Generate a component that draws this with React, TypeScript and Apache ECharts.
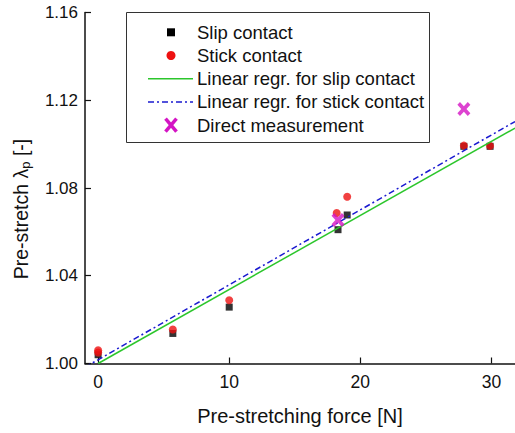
import React, { useEffect, useRef } from "react";
import * as echarts from "echarts";

// Slip contact (black squares)
const slipX = [0, 5.7, 10, 18.3, 19, 27.9, 29.9];
const slipY = [1.004, 1.0137, 1.0257, 1.061, 1.0677, 1.099, 1.099];
// Stick contact (red dots)
const stickX = [0, 0, 5.7, 10, 18.2, 19, 27.9, 29.9];
const stickY = [1.005, 1.006, 1.0155, 1.0288, 1.0686, 1.076, 1.0993, 1.0992];
// Direct measurement (magenta crosses)
const directX = [18.3, 27.9];
const directY = [1.0654, 1.116];
// Linear regressions (end points)
const slipRegX = [0, 31.8];
const slipRegY = [1.0, 1.1073];
const stickRegX = [-1, 31.8];
const stickRegY = [0.9983, 1.1103];

const xTicks = [0, 10, 20, 30];
const legendLabels = [
  "Slip contact",
  "Stick contact",
  "Linear regr. for slip contact",
  "Linear regr. for stick contact",
  "Direct measurement",
];

const zip = (xs: number[], ys: number[]) => xs.map((x, i) => [x, ys[i]]);

const FONT = "Liberation Sans, Arial, sans-serif";
const GREEN = "#2cc62c";
const BLUE = "#1a1ad0";
const RED = "#ee1111";
const MAGENTA = "#d414c4";
const CROSS =
  "path://M0,2 L2,0 L5,3 L8,0 L10,2 L7,5 L10,8 L8,10 L5,7 L2,10 L0,8 L3,5 Z";

export default function App() {
  const ref = useRef<HTMLDivElement>(null);
  useEffect(() => {
    if (!ref.current) return;
    const chart = echarts.init(ref.current, undefined, { renderer: "svg" });
    const rowY = (i: number) => 32.3 + i * 23.2;
    const legendGraphics: any[] = [
      {
        type: "rect",
        shape: { x: 126.5, y: 12.5, width: 303, height: 130 },
        style: { fill: "#fff", stroke: "#333", lineWidth: 1 },
        z: 10,
      },
      {
        type: "rect",
        shape: { x: 167, y: rowY(0) - 4, width: 8, height: 8 },
        style: { fill: "#000" },
        z: 11,
      },
      {
        type: "circle",
        shape: { cx: 171, cy: rowY(1), r: 4.5 },
        style: { fill: RED },
        z: 11,
      },
      {
        type: "line",
        shape: { x1: 148, y1: rowY(2), x2: 193, y2: rowY(2) },
        style: { stroke: GREEN, lineWidth: 1.5 },
        z: 11,
      },
      {
        type: "line",
        shape: { x1: 148, y1: rowY(3), x2: 193, y2: rowY(3) },
        style: { stroke: BLUE, lineWidth: 1.5, lineDash: [6, 3, 2, 3] },
        z: 11,
      },
      {
        type: "line",
        shape: { x1: 165.5, y1: rowY(4) - 6.5, x2: 176.5, y2: rowY(4) + 6.5 },
        style: { stroke: MAGENTA, lineWidth: 3.5 },
        z: 11,
      },
      {
        type: "line",
        shape: { x1: 176.5, y1: rowY(4) - 6.5, x2: 165.5, y2: rowY(4) + 6.5 },
        style: { stroke: MAGENTA, lineWidth: 3.5 },
        z: 11,
      },
      ...legendLabels.map((t, i) => ({
        type: "text",
        x: 197,
        y: rowY(i),
        style: {
          text: t,
          fill: "#111",
          font: `18.5px ${FONT}`,
          verticalAlign: "middle",
          align: "left",
        },
        z: 11,
      })),
      {
        type: "text",
        x: 21,
        y: 209,
        rotation: Math.PI / 2,
        style: {
          text: "Pre-stretch λ{sub|p} [-]",
          fill: "#111",
          font: `19.5px ${FONT}`,
          align: "center",
          verticalAlign: "middle",
          rich: {
            sub: {
              fontSize: 13,
              fontFamily: FONT,
              fill: "#111",
              verticalAlign: "bottom",
              padding: [9, 0, 0, 0],
            },
          },
        },
        z: 11,
      },
    ];

    chart.setOption({
      animation: false,
      backgroundColor: "#fff",
      textStyle: { fontFamily: FONT },
      grid: { left: 85, right: 0, top: 12.5, bottom: 69.5 },
      xAxis: {
        type: "value",
        min: -1,
        max: 31.8,
        name: "Pre-stretching force [N]",
        nameLocation: "middle",
        nameGap: 42,
        nameTextStyle: { fontSize: 20, color: "#111", fontFamily: FONT },
        axisLine: { lineStyle: { color: "#111", width: 1.5 } },
        axisTick: {
          inside: true,
          length: 6,
          customValues: xTicks,
          lineStyle: { color: "#111", width: 1.2 },
        },
        axisLabel: {
          customValues: xTicks,
          fontSize: 17.5,
          color: "#111",
          margin: 9,
          fontFamily: FONT,
        },
        splitLine: { show: false },
      },
      yAxis: {
        type: "value",
        min: 1.0,
        max: 1.16,
        interval: 0.04,
        axisLine: { onZero: false, lineStyle: { color: "#111", width: 1.5 } },
        axisTick: { inside: true, length: 6, lineStyle: { color: "#111", width: 1.2 } },
        axisLabel: {
          fontSize: 17,
          color: "#111",
          margin: 7,
          fontFamily: FONT,
          formatter: (v: number) => v.toFixed(2),
        },
        splitLine: { show: false },
      },
      series: [
        {
          name: legendLabels[0],
          type: "scatter",
          symbol: "rect",
          symbolSize: 7,
          itemStyle: { color: "#000" },
          data: zip(slipX, slipY),
          z: 2,
        },
        {
          name: legendLabels[1],
          type: "scatter",
          symbol: "circle",
          symbolSize: 8,
          itemStyle: { color: RED },
          data: zip(stickX, stickY),
          z: 3,
        },
        {
          name: legendLabels[2],
          type: "line",
          showSymbol: false,
          symbol: "none",
          lineStyle: { color: GREEN, width: 1.5 },
          data: zip(slipRegX, slipRegY),
          z: 4,
        },
        {
          name: legendLabels[3],
          type: "line",
          showSymbol: false,
          symbol: "none",
          lineStyle: { color: BLUE, width: 1.5, type: [6, 3, 2, 3] },
          data: zip(stickRegX, stickRegY),
          z: 5,
        },
        {
          name: legendLabels[4],
          type: "scatter",
          symbol: CROSS,
          symbolSize: [13, 14],
          itemStyle: { color: MAGENTA },
          data: zip(directX, directY),
          z: 6,
        },
      ],
      graphic: legendGraphics,
    });
    return () => chart.dispose();
  }, []);
  return (
    <div
      ref={ref}
      style={{ position: "fixed", left: 0, top: 0, width: 515, height: 433 }}
    />
  );
}
